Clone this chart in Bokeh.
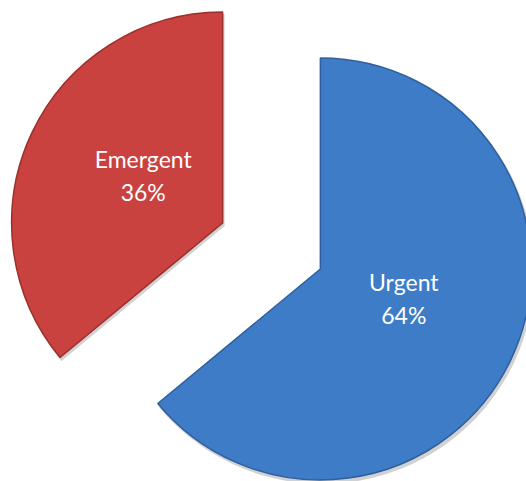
import math
from bokeh.plotting import figure
from bokeh.models import Range1d, ColumnDataSource
from bokeh.core.properties import value
from bokeh.embed import file_html
from bokeh.resources import INLINE

categories = ["Urgent", "Emergent"]
values = [64, 36]
colors = ["#3e7cc7", "#c9423f"]
edge_colors = ["#2f5f9c", "#9a2f2c"]

W, H = 526, 481
p = figure(width=W, height=H, output_backend="svg", toolbar_location=None,
           x_range=Range1d(0, W), y_range=Range1d(0, H),
           min_border=0, outline_line_color=None)
p.axis.visible = False
p.grid.visible = False
p.background_fill_color = "white"
p.border_fill_color = "white"

cx, cy = 271.0, 235.5
r = 211.0
explode = 54.0
label_dist = 90.0

total = float(sum(values))
start = 90.0  # degrees, clockwise
rows = []
for cat, v, col, ec in zip(categories, values, colors, edge_colors):
    sweep = v / total * 360.0
    end = start - sweep
    mid = math.radians((start + end) / 2.0)
    vx = cx + explode * math.cos(mid)
    vy = cy + explode * math.sin(mid)
    rows.append(dict(cat=cat, v=v, col=col, ec=ec, vx=vx, vy=vy,
                     a0=math.radians(end), a1=math.radians(start),
                     lx=vx + label_dist * math.cos(mid) + 2,
                     ly=vy + label_dist * math.sin(mid) + 9))
    start = end

src = ColumnDataSource(dict(
    x=[d["vx"] for d in rows], y=[d["vy"] for d in rows],
    a0=[d["a0"] for d in rows], a1=[d["a1"] for d in rows],
    col=[d["col"] for d in rows], ec=[d["ec"] for d in rows],
    sx=[d["vx"] + 2 for d in rows], sy=[d["vy"] - 3 for d in rows],
    lx=[d["lx"] for d in rows], ly=[d["ly"] for d in rows],
    label=[f"{d['cat']}\n{d['v']}%" for d in rows],
))

# soft shadow
p.wedge(x="sx", y="sy", radius=r + 1, start_angle="a0", end_angle="a1",
        fill_color="#000000", fill_alpha=0.18, line_color=None, source=src)
p.wedge(x="x", y="y", radius=r, start_angle="a0", end_angle="a1",
        fill_color="col", line_color="ec", line_width=1.5, source=src)

p.text(x="lx", y="ly", text="label", source=src, text_color="white",
       text_font=value("Lato"), text_font_size="23px", text_align="center",
       text_baseline="middle", text_line_height=1.2)

open("out.html", "w").write(file_html(p, INLINE))
